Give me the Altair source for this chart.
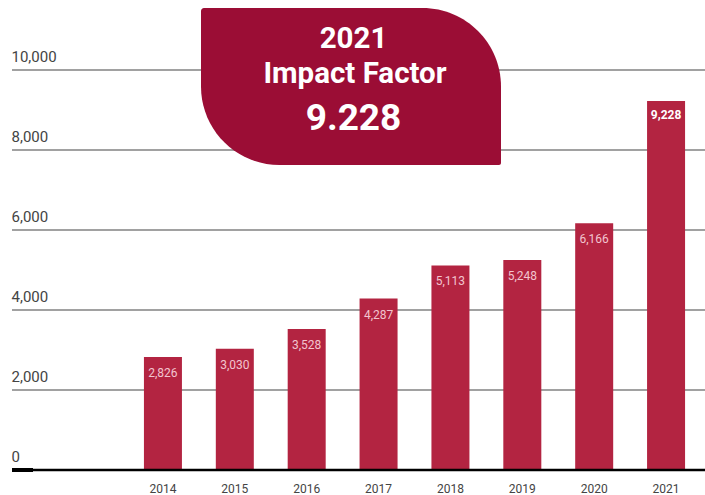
import altair as alt
import pandas as pd

years = ["2014", "2015", "2016", "2017", "2018", "2019", "2020", "2021"]
citations = [2826, 3030, 3528, 4287, 5113, 5248, 6166, 9228]
y_ticks = [0, 2000, 4000, 6000, 8000, 10000]
badge_lines = ["2021", "Impact Factor", "9.228"]

df = pd.DataFrame({"year": years, "value": citations})
df["label"] = df["value"].map(lambda v: f"{v:,}")
df["last"] = df["year"] == years[-1]

FONT = "Roboto"
BAR = "#B32441"
BADGE = "#9B0D35"

x_axis = alt.Axis(title=None, domain=False, ticks=False, grid=False, labelAngle=0,
                  labelFontSize=12, labelColor="#444", labelFont=FONT, labelPadding=13)
y_axis = alt.Axis(title=None, values=y_ticks, labelExpr="format(datum.value, ',.0f')",
                  domain=False, ticks=False, grid=False,
                  labelAlign="left", labelBaseline="alphabetic",
                  labelPadding=1, labelOffset=-8.5, labelFontSize=15,
                  labelColor="#444", labelFont=FONT)
x_scale = alt.Scale(range=[115, 690], paddingInner=0.47, paddingOuter=0.235)
y_scale = alt.Scale(domain=[0, 10000])

def X():
    return alt.X("year:N", sort=years, scale=x_scale, axis=x_axis)

def Y(field="value:Q"):
    return alt.Y(field, scale=y_scale, axis=y_axis)

base = alt.Chart(df)

grid = alt.Chart(pd.DataFrame({"value": y_ticks[1:]})).mark_rule(
    color="#444", strokeWidth=1.1
).encode(y=Y(), x=alt.value(0), x2=alt.value(693))

bars = base.mark_bar(color=BAR, size=38).encode(x=X(), y=Y())

labels = base.transform_filter("!datum.last").mark_text(
    baseline="middle", dy=16, fontSize=12, font=FONT, color="#F2C4CF"
).encode(x=X(), y=Y(), text="label:N")

label_last = base.transform_filter("datum.last").mark_text(
    baseline="middle", dy=14, fontSize=12, font=FONT, fontWeight="bold", color="white"
).encode(x=X(), y=Y(), text="label:N")

zero = pd.DataFrame({"value": [0]})
baseline = alt.Chart(zero).mark_rule(color="#000", strokeWidth=2.5).encode(
    y=Y(), x=alt.value(0), x2=alt.value(693))
stub = alt.Chart(zero).mark_rule(color="#000", strokeWidth=4).encode(
    y=Y(), x=alt.value(0), x2=alt.value(21))

badge = alt.Chart(pd.DataFrame({"a": [0]})).mark_rect(
    color=BADGE, cornerRadiusTopLeft=3, cornerRadiusTopRight=85,
    cornerRadiusBottomLeft=80, cornerRadiusBottomRight=2
).encode(x=alt.value(189), x2=alt.value(489), y=alt.value(-62), y2=alt.value(95))

def badge_text(txt, size, xv, yv):
    return alt.Chart(pd.DataFrame({"t": [txt]})).mark_text(
        font=FONT, fontWeight="bold", fontSize=size, color="white",
        align="center", baseline="alphabetic"
    ).encode(x=alt.value(xv), y=alt.value(yv), text="t:N")

t1 = badge_text(badge_lines[0], 29.5, 341.5, -22)
t2 = badge_text(badge_lines[1], 29.5, 343, 13)
t3 = badge_text(badge_lines[2], 37, 341.5, 60)

chart = alt.layer(grid, bars, labels, label_last, baseline, stub, badge, t1, t2, t3).properties(
    width=693, height=400,
    autosize=alt.AutoSizeParams(type="none"),
    padding={"left": 12, "top": 70, "right": 0, "bottom": 25},
).configure_view(
    strokeWidth=0, stroke="transparent"
).configure_axis(
    domain=False, domainColor="transparent", domainWidth=0, grid=False, ticks=False
).configure(background="white", style={"cell": {"stroke": "transparent", "strokeWidth": 0}})

chart.save("out.html", embed_options={"renderer": "svg", "actions": False})
